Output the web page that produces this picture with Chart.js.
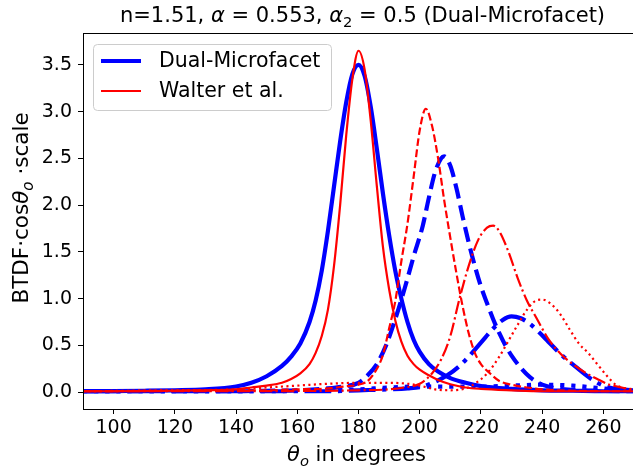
<!DOCTYPE html>
<html>
<head>
<meta charset="utf-8">
<script src="https://cdn.jsdelivr.net/npm/chart.js@4.4.0/dist/chart.umd.min.js"></script>
<style>
  html, body { margin: 0; padding: 0; background: #fff; overflow: hidden; }
</style>
</head>
<body>
<canvas id="chart" width="634" height="468"></canvas>
<script>
// --- data (theta_o in degrees, BTDF*cos*scale) ---
const xTicks = [100, 120, 140, 160, 180, 200, 220, 240, 260];
const yTicks = [0, 0.5, 1, 1.5, 2, 2.5, 3, 3.5];
const legendLabels = ['Dual-Microfacet', 'Walter et al.'];

// Dual-Microfacet (blue)
const dualSolidX = [90, 100, 110, 120, 130, 140, 145, 150, 155, 158, 161, 164, 166, 168, 170, 172, 174, 176, 178, 180, 182, 184, 186, 188, 190, 192, 194, 196, 198, 200, 203, 206, 210, 215, 220, 230, 240, 250, 260, 270];
const dualSolidY = [0.01, 0.012, 0.015, 0.02, 0.03, 0.06, 0.1, 0.17, 0.28, 0.38, 0.52, 0.75, 0.98, 1.3, 1.72, 2.2, 2.68, 3.1, 3.4, 3.5, 3.38, 3.05, 2.6, 2.12, 1.68, 1.3, 1.0, 0.75, 0.56, 0.43, 0.3, 0.22, 0.15, 0.1, 0.065, 0.035, 0.02, 0.015, 0.01, 0.01];

const dualDashX = [90, 110, 130, 140, 150, 160, 170, 175, 180, 183, 186, 189, 192, 195, 198, 201, 203, 205, 207, 208, 210, 212, 214, 216, 218, 220, 222, 224, 226, 228, 230, 233, 236, 240, 245, 250, 260, 270];
const dualDashY = [0.01, 0.01, 0.01, 0.01, 0.015, 0.02, 0.04, 0.06, 0.1, 0.18, 0.3, 0.5, 0.78, 1.1, 1.45, 1.78, 2.08, 2.35, 2.5, 2.52, 2.42, 2.18, 1.88, 1.6, 1.35, 1.13, 0.95, 0.78, 0.63, 0.5, 0.39, 0.26, 0.16, 0.08, 0.04, 0.025, 0.015, 0.01];

const dualDashDotX = [90, 130, 170, 180, 190, 196, 201, 205, 209, 213, 216, 220, 224, 227, 230, 233, 236, 239, 242, 245, 248, 251, 254, 257, 260, 265, 270];
const dualDashDotY = [0.01, 0.01, 0.01, 0.02, 0.03, 0.04, 0.06, 0.11, 0.18, 0.28, 0.38, 0.53, 0.68, 0.77, 0.81, 0.79, 0.73, 0.64, 0.54, 0.44, 0.35, 0.27, 0.19, 0.12, 0.07, 0.03, 0.02];

const dualDotX = [90, 120, 150, 160, 170, 180, 190, 200, 210, 220, 230, 240, 250, 260, 270];
const dualDotY = [0.01, 0.01, 0.01, 0.015, 0.02, 0.03, 0.05, 0.06, 0.06, 0.06, 0.07, 0.08, 0.07, 0.04, 0.02];

// Walter et al. (red)
const walterSolidX = [90, 100, 110, 120, 130, 140, 145, 150, 155, 158, 161, 164, 166, 168, 170, 172, 174, 176, 178, 180, 182, 184, 186, 188, 190, 192, 194, 196, 198, 200, 203, 206, 210, 215, 220, 230, 240, 250, 260, 270];
const walterSolidY = [0.01, 0.01, 0.012, 0.015, 0.02, 0.03, 0.05, 0.07, 0.1, 0.14, 0.2, 0.3, 0.42, 0.6, 0.88, 1.35, 2.0, 2.75, 3.35, 3.65, 3.45, 2.9, 2.2, 1.55, 1.1, 0.77, 0.54, 0.39, 0.3, 0.24, 0.18, 0.13, 0.085, 0.05, 0.035, 0.02, 0.01, 0.01, 0.01, 0.01];

const walterDashX = [90, 120, 150, 160, 170, 175, 180, 183, 186, 188, 190, 192, 194, 196, 198, 200, 202, 204, 206, 208, 210, 212, 214, 216, 218, 220, 223, 226, 230, 235, 240, 250, 260, 270];
const walterDashY = [0.01, 0.015, 0.02, 0.03, 0.04, 0.06, 0.08, 0.12, 0.25, 0.4, 0.68, 0.97, 1.4, 1.8, 2.3, 2.8, 3.03, 2.85, 2.5, 2.05, 1.65, 1.27, 0.92, 0.63, 0.42, 0.3, 0.2, 0.12, 0.08, 0.05, 0.03, 0.015, 0.01, 0.01];

const walterDashDotX = [90, 130, 180, 190, 195, 200, 204, 207, 210, 213, 216, 219, 222, 224, 226, 229, 232, 235, 238, 242, 246, 250, 254, 258, 262, 266, 270];
const walterDashDotY = [0.01, 0.01, 0.02, 0.03, 0.05, 0.09, 0.2, 0.35, 0.6, 1.0, 1.35, 1.62, 1.76, 1.78, 1.72, 1.5, 1.22, 0.98, 0.8, 0.57, 0.41, 0.3, 0.21, 0.14, 0.08, 0.05, 0.03];

const walterDotX = [90, 120, 140, 150, 160, 170, 180, 190, 196, 200, 205, 210, 215, 218, 222, 226, 229, 232, 235, 238, 240, 243, 246, 249, 252, 255, 258, 261, 264, 267, 270];
const walterDotY = [0.01, 0.02, 0.03, 0.05, 0.07, 0.09, 0.1, 0.1, 0.09, 0.07, 0.03, 0.02, 0.04, 0.09, 0.2, 0.38, 0.55, 0.72, 0.88, 0.98, 0.99, 0.94, 0.83, 0.67, 0.52, 0.42, 0.3, 0.18, 0.08, 0.04, 0.02];

const BLUE = '#0000ff', RED = '#ff0000';
const FONT = '"DejaVu Sans", sans-serif';

function pts(xs, ys) {
    return xs.map((x, i) => ({ x: x, y: ys[i] }));
}

function line(xs, ys, color, width, dash, order) {
    return {
        data: pts(xs, ys),
        borderColor: color,
        borderWidth: width,
        borderDash: dash,
        pointRadius: 0,
        fill: false,
        cubicInterpolationMode: 'monotone',
        order: order
    };
}

// draw text runs with italic / subscript parts (mathtext lookalike)
function drawRich(ctx, parts, size, cx, cy, rotate) {
    const fontOf = p => (p.it ? 'italic ' : '') + (p.sub ? size * 0.7 : size) + 'px ' + FONT;
    let total = 0;
    parts.forEach(p => {
        ctx.font = fontOf(p);
        p.w = ctx.measureText(p.t).width;
        total += p.w;
    });
    ctx.save();
    ctx.translate(cx, cy);
    if (rotate) ctx.rotate(-Math.PI / 2);
    ctx.textAlign = 'left';
    ctx.textBaseline = 'alphabetic';
    ctx.fillStyle = '#000';
    let x = -total / 2;
    parts.forEach(p => {
        ctx.font = fontOf(p);
        ctx.fillText(p.t, x, p.sub ? size * 0.22 : 0);
        x += p.w;
    });
    ctx.restore();
}

const decorPlugin = {
    id: 'decor',
    afterDraw(chart) {
        const ctx = chart.ctx;
        const a = chart.chartArea;

        // full box frame
        ctx.save();
        ctx.strokeStyle = '#000';
        ctx.lineWidth = 1;
        ctx.strokeRect(a.left + 0.5, a.top + 0.5, a.right - a.left - 1, a.bottom - a.top);
        ctx.restore();

        const cx = (a.left + a.right) / 2;
        // title
        drawRich(ctx, [
            { t: 'n=1.51, ' }, { t: 'α', it: true }, { t: ' = 0.553, ' },
            { t: 'α', it: true }, { t: '2', sub: true }, { t: ' = 0.5 (Dual-Microfacet)' }
        ], 21, cx + 4, 22, false);
        // x axis title
        drawRich(ctx, [{ t: 'θ', it: true }, { t: 'o', it: true, sub: true }, { t: ' in degrees' }],
            21, cx - 2, 461, false);
        // y axis title
        drawRich(ctx, [{ t: 'BTDF·cos' }, { t: 'θ', it: true }, { t: 'o', it: true, sub: true }, { t: ' ·scale' }],
            21.5, 28, 208, true);

        // legend box
        const lx = 93, ly = 44, lw = 238, lh = 66;
        ctx.save();
        ctx.fillStyle = 'rgba(255,255,255,0.8)';
        ctx.strokeStyle = '#cccccc';
        ctx.lineWidth = 1;
        ctx.beginPath();
        ctx.roundRect(lx + 0.5, ly + 0.5, lw, lh, 4);
        ctx.fill();
        ctx.stroke();
        const rows = [[legendLabels[0], BLUE, 4], [legendLabels[1], RED, 2.2]];
        rows.forEach((r, i) => {
            const y = ly + 17 + i * 30;
            ctx.strokeStyle = r[1];
            ctx.lineWidth = r[2];
            ctx.beginPath();
            ctx.moveTo(lx + 8, y);
            ctx.lineTo(lx + 48, y);
            ctx.stroke();
            ctx.fillStyle = '#000';
            ctx.font = '20.5px ' + FONT;
            ctx.textBaseline = 'middle';
            ctx.textAlign = 'left';
            ctx.fillText(r[0], lx + 66, y + 1);
        });
        ctx.restore();
    }
};

new Chart(document.getElementById('chart'), {
    type: 'line',
    data: {
        datasets: [
            line(walterSolidX, walterSolidY, RED, 2.2, [], 0),
            line(walterDashX, walterDashY, RED, 2.2, [7.7, 3.3], 0),
            line(walterDashDotX, walterDashDotY, RED, 2.2, [13.3, 3.3, 2.1, 3.3], 0),
            line(walterDotX, walterDotY, RED, 2.2, [2.1, 3.4], 0),
            line(dualSolidX, dualSolidY, BLUE, 4.2, [], 1),
            line(dualDashX, dualDashY, BLUE, 4.2, [15.4, 6.7], 1),
            line(dualDashDotX, dualDashDotY, BLUE, 4.2, [26.7, 6.7, 4.2, 6.7], 1),
            line(dualDotX, dualDotY, BLUE, 4.2, [4.2, 6.9], 1)
        ]
    },
    options: {
        responsive: false,
        animation: false,
        devicePixelRatio: 1,
        layout: { padding: { top: 33, left: 0, right: 0, bottom: 0 } },
        plugins: { legend: { display: false }, title: { display: false }, tooltip: { enabled: false } },
        scales: {
            x: {
                type: 'linear',
                min: 90,
                max: 270,
                afterBuildTicks: s => { s.ticks = xTicks.map(v => ({ value: v })); },
                afterFit: s => { s.height = 59; },
                grid: { drawOnChartArea: false, tickLength: 5, color: '#000' },
                border: { color: '#000' },
                ticks: { font: { family: FONT, size: 19 }, color: '#000', padding: 3, maxRotation: 0, autoSkip: false }
            },
            y: {
                min: -0.18,
                max: 3.84,
                afterBuildTicks: s => { s.ticks = yTicks.map(v => ({ value: v })); },
                afterFit: s => { s.width = 83; },
                grid: { drawOnChartArea: false, tickLength: 5, color: '#000' },
                border: { color: '#000' },
                ticks: { font: { family: FONT, size: 19 }, color: '#000', padding: 6, callback: v => v.toFixed(1) }
            }
        }
    },
    plugins: [decorPlugin]
});
</script>
</body>
</html>
